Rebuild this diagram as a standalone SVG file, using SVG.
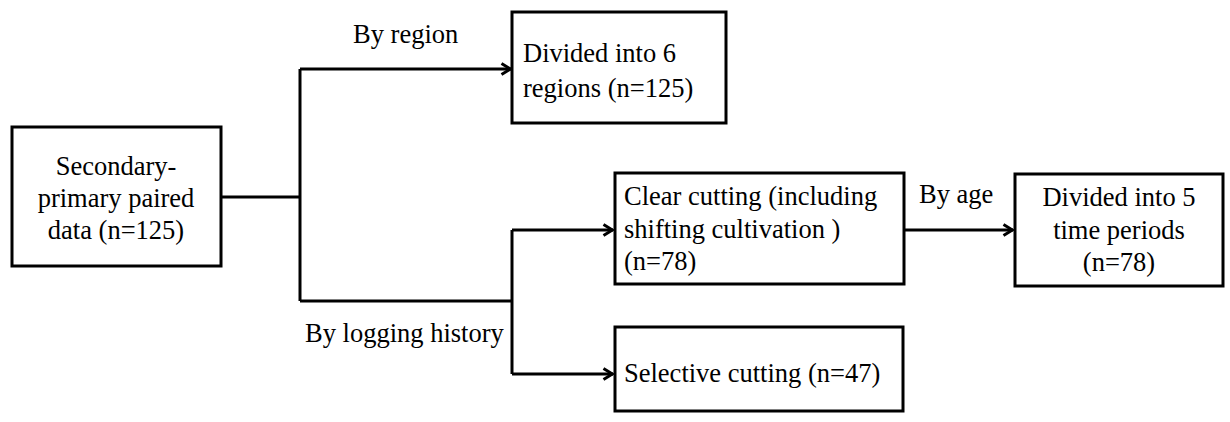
<svg xmlns="http://www.w3.org/2000/svg" width="1230" height="422" viewBox="0 0 1230 422">
<style>
.box{fill:#fff;stroke:#000;stroke-width:3}
.ln{fill:none;stroke:#000;stroke-width:3}
.c{text-anchor:middle}
</style>
<defs>
<marker id="arr" viewBox="0 0 12 14" refX="11" refY="7" markerWidth="12" markerHeight="14" markerUnits="userSpaceOnUse" orient="auto">
<path d="M1.5,1.5 L10.5,7 L1.5,12.5" fill="none" stroke="#000" stroke-width="3"/>
</marker>
</defs>
<rect width="1230" height="422" fill="#fff"/>
<g font-family="Liberation Serif, Tinos, Times New Roman, DejaVu Serif, serif" font-size="26.5" fill="#000">
<g id="connectors">
<path class="ln" d="M221,197 H300"/>
<path class="ln" d="M300,69 V301"/>
<path class="ln" d="M300,69 H511" marker-end="url(#arr)"/>
<path class="ln" d="M300,301 H512"/>
<path class="ln" d="M512,230 V374"/>
<path class="ln" d="M512,230 H613" marker-end="url(#arr)"/>
<path class="ln" d="M512,374 H613" marker-end="url(#arr)"/>
<path class="ln" d="M904,230 H1013" marker-end="url(#arr)"/>
<text x="353" y="43">By region</text>
<text x="305" y="342">By logging history</text>
<text x="919" y="203">By age</text>
</g>
<g id="node-source">
<rect class="box" x="12" y="127" width="209" height="139"/>
<text class="c" x="116" y="175">Secondary-</text>
<text class="c" x="116" y="207">primary paired</text>
<text class="c" x="116" y="239">data (n=125)</text>
</g>
<g id="node-regions">
<rect class="box" x="512" y="12" width="214" height="111"/>
<text x="523" y="62">Divided into 6</text>
<text x="523" y="97">regions (n=125)</text>
</g>
<g id="node-clear">
<rect class="box" x="615" y="173" width="289" height="111"/>
<text x="624" y="205">Clear cutting (including</text>
<text x="624" y="238">shifting cultivation )</text>
<text x="624" y="270">(n=78)</text>
</g>
<g id="node-selective">
<rect class="box" x="615" y="327" width="288" height="84"/>
<text x="624" y="382">Selective cutting (n=47)</text>
</g>
<g id="node-periods">
<rect class="box" x="1015" y="174" width="208" height="112"/>
<text class="c" x="1119" y="206">Divided into 5</text>
<text class="c" x="1119" y="239">time periods</text>
<text class="c" x="1119" y="271">(n=78)</text>
</g>
</g>
</svg>
